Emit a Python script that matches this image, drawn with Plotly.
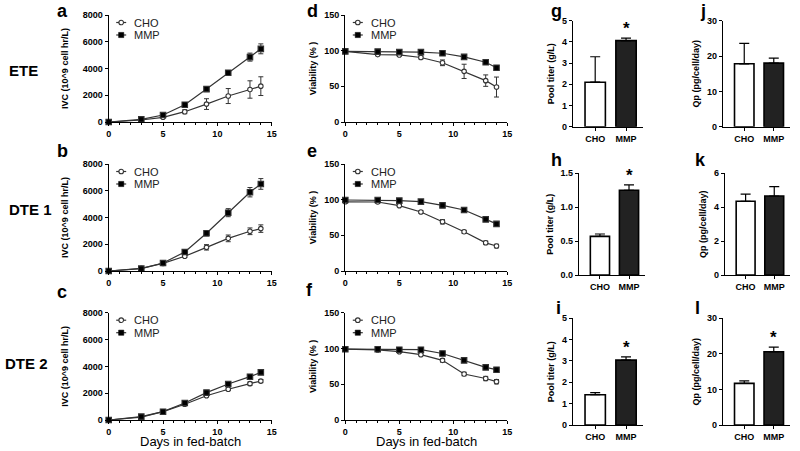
import plotly.graph_objects as go

# ---------------- data ----------------
days = [0, 3, 5, 7, 9, 11, 13, 14]

ivc_ete_cho = [0, 150, 350, 770, 1340, 1940, 2430, 2680]
ivc_ete_cho_err = [0, 30, 60, 150, 400, 560, 650, 700]
ivc_ete_mmp = [0, 200, 520, 1290, 2460, 3680, 4850, 5470]
ivc_ete_mmp_err = [0, 20, 40, 60, 100, 120, 300, 370]

ivc_dte1_cho = [0, 200, 570, 1100, 1770, 2440, 2970, 3170]
ivc_dte1_cho_err = [0, 20, 40, 80, 200, 250, 250, 280]
ivc_dte1_mmp = [0, 175, 600, 1420, 2820, 4360, 5890, 6510]
ivc_dte1_mmp_err = [0, 20, 40, 150, 200, 300, 350, 400]

ivc_dte2_cho = [0, 220, 620, 1170, 1810, 2290, 2710, 2900]
ivc_dte2_cho_err = [0, 20, 40, 60, 80, 100, 120, 120]
ivc_dte2_mmp = [0, 250, 620, 1270, 2040, 2680, 3230, 3550]
ivc_dte2_mmp_err = [0, 20, 30, 50, 60, 60, 60, 70]

via_ete_cho = [99, 94.5, 94, 90.4, 83, 71, 58, 49]
via_ete_cho_err = [1, 1.5, 1.5, 2, 4, 10, 8, 14]
via_ete_mmp = [99, 98.7, 98, 98, 96.4, 91.3, 83.8, 76]
via_ete_mmp_err = [1, 1, 1, 1, 1, 1.5, 2, 2]

via_dte1_cho = [97, 96.7, 91.6, 82.7, 69, 55, 39.5, 35]
via_dte1_cho_err = [2, 1, 1, 1.5, 3, 2, 2.5, 2.5]
via_dte1_mmp = [99.5, 99.5, 98.6, 97.2, 92, 85.5, 72.4, 66]
via_dte1_mmp_err = [1, 1, 1, 1, 1, 1.5, 2, 3]

via_dte2_cho = [99, 98, 95.5, 91.3, 83.4, 64.3, 58, 53.6]
via_dte2_cho_err = [1, 1, 1.5, 1.5, 2.5, 2.5, 3, 3]
via_dte2_mmp = [99, 99, 98.3, 98.3, 93, 83.4, 73.6, 70.3]
via_dte2_mmp_err = [1, 1, 1, 1, 1, 2, 3, 1.5]

groups = ["CHO", "MMP"]
titer_ete = [2.1, 4.06]
titer_ete_err = [1.2, 0.12]
qp_ete = [17.8, 18.0]
qp_ete_err = [5.8, 1.4]
titer_dte1 = [0.57, 1.25]
titer_dte1_err = [0.035, 0.08]
qp_dte1 = [4.35, 4.66]
qp_dte1_err = [0.42, 0.55]
titer_dte2 = [1.42, 3.04]
titer_dte2_err = [0.1, 0.15]
qp_dte2 = [11.7, 20.6]
qp_dte2_err = [0.7, 1.3]

row_labels = ["ETE", "DTE 1", "DTE 2"]
panel_letters = ["a", "b", "c", "d", "e", "f", "g", "h", "i", "j", "k", "l"]

# ---------------- layout helpers ----------------
W, H = 800, 451
FONT = "Liberation Sans, Arial, sans-serif"

def xd(a, b):
    return [a / W, b / W]

def yd(top, bottom):
    return [1 - bottom / H, 1 - top / H]

def px(v):
    return v / W

def py(v):
    return 1 - v / H

fig = go.Figure()
layout = {}
shapes = []

line_rows = [(15, 122), (164, 271), (312.7, 420)]
bar_rows = [(20.7, 126.7), (173.3, 275), (318.3, 425)]

ivc_sets = [
    (ivc_ete_cho, ivc_ete_cho_err, ivc_ete_mmp, ivc_ete_mmp_err),
    (ivc_dte1_cho, ivc_dte1_cho_err, ivc_dte1_mmp, ivc_dte1_mmp_err),
    (ivc_dte2_cho, ivc_dte2_cho_err, ivc_dte2_mmp, ivc_dte2_mmp_err),
]
via_sets = [
    (via_ete_cho, via_ete_cho_err, via_ete_mmp, via_ete_mmp_err),
    (via_dte1_cho, via_dte1_cho_err, via_dte1_mmp, via_dte1_mmp_err),
    (via_dte2_cho, via_dte2_cho_err, via_dte2_mmp, via_dte2_mmp_err),
]
titer_sets = [(titer_ete, titer_ete_err), (titer_dte1, titer_dte1_err), (titer_dte2, titer_dte2_err)]
qp_sets = [(qp_ete, qp_ete_err), (qp_dte1, qp_dte1_err), (qp_dte2, qp_dte2_err)]

tickfont = dict(family=FONT, size=9, color="black", weight="bold")
titlefont = dict(family=FONT, size=9, color="black", weight="bold")
LINEC = "#333333"

def axis_common():
    return dict(showline=True, linecolor="black", linewidth=1.3, ticks="outside",
                tickcolor="black", tickwidth=1.3, ticklen=3, showgrid=False,
                zeroline=False, tickfont=tickfont, automargin=False)

ax_idx = [0]

def next_axes():
    ax_idx[0] += 1
    n = ax_idx[0]
    s = "" if n == 1 else str(n)
    return n, "x" + s, "y" + s, "xaxis" + s, "yaxis" + s

def add_legend_key(left_px, top_px):
    # small legend key drawn in the top-left corner of a panel
    cx = left_px + 12.5
    entries = [("CHO", top_px + 7.5, "circle"), ("MMP", top_px + 20, "square")]
    for name, cy, kind in entries:
        shapes.append(dict(type="line", xref="paper", yref="paper",
                           x0=px(cx - 5), x1=px(cx + 5), y0=py(cy), y1=py(cy),
                           line=dict(color=LINEC, width=1.2)))
        if kind == "circle":
            shapes.append(dict(type="circle", xref="paper", yref="paper",
                               x0=px(cx - 2.3), x1=px(cx + 2.3), y0=py(cy + 2.3), y1=py(cy - 2.3),
                               fillcolor="white", line=dict(color=LINEC, width=1.1)))
        else:
            shapes.append(dict(type="rect", xref="paper", yref="paper",
                               x0=px(cx - 2.6), x1=px(cx + 2.6), y0=py(cy + 2.6), y1=py(cy - 2.6),
                               fillcolor="black", line=dict(color="black", width=0.5)))
        fig.add_annotation(x=px(cx + 11), y=py(cy), xref="paper", yref="paper", text=name,
                           showarrow=False, xanchor="left", yanchor="middle",
                           font=dict(family=FONT, size=11, color="#222"))

def add_line_panel(xp, yp, cho, cho_err, mmp, mmp_err, yrange, dtick, ytitle, standoff):
    n, xr, yr, xk, yk = next_axes()
    for name, vals, errs, sym, fill, msize in [
        ("CHO", cho, cho_err, "circle", "white", 4.5),
        ("MMP", mmp, mmp_err, "square", "black", 5.5),
    ]:
        fig.add_trace(go.Scatter(
            x=days, y=vals, name=name, mode="lines+markers", xaxis=xr, yaxis=yr,
            showlegend=False, cliponaxis=False,
            line=dict(color=LINEC, width=1.2),
            marker=dict(symbol=sym, size=msize, color=fill,
                        line=dict(color=LINEC, width=1.1)),
            error_y=dict(type="data", array=errs, visible=True, color=LINEC,
                         thickness=1, width=2.5),
        ))
    xdom = xd(*xp)
    ydom = yd(*yp)
    xa = axis_common()
    xa.update(domain=xdom, range=[0, 15], tickvals=[0, 5, 10, 15], anchor=yr,
              minor=dict(ticks="outside", dtick=1, ticklen=2, tickcolor="black", tickwidth=1))
    ya = axis_common()
    ya.update(domain=ydom, range=yrange, dtick=dtick, anchor=xr,
              title=dict(text=ytitle, font=titlefont, standoff=standoff))
    layout[xk] = xa
    layout[yk] = ya
    add_legend_key(xp[0], yp[0])

def add_bar_panel(xp, yp, vals, errs, yrange, dtick, ytitle, standoff, star, tickformat=None):
    n, xr, yr, xk, yk = next_axes()
    fig.add_trace(go.Bar(
        x=groups, y=vals, xaxis=xr, yaxis=yr, showlegend=False, width=0.66,
        marker=dict(color=["white", "#222222"], line=dict(color="black", width=1.6)),
        error_y=dict(type="data", symmetric=False, array=errs, arrayminus=[0, 0],
                     visible=True, color="black", thickness=1.2, width=5),
    ))
    xa = axis_common()
    xa.update(domain=xd(*xp), range=[-0.72, 1.55], anchor=yr, type="category")
    ya = axis_common()
    ya.update(domain=yd(*yp), range=yrange, dtick=dtick, anchor=xr,
              title=dict(text=ytitle, font=titlefont, standoff=standoff))
    if tickformat:
        ya["tickformat"] = tickformat
    layout[xk] = xa
    layout[yk] = ya
    if star:
        fig.add_annotation(x="MMP", y=vals[1] + errs[1], xref=xr, yref=yr, text="*",
                           showarrow=False, yanchor="bottom", yshift=-2,
                           font=dict(family=FONT, size=17, color="black", weight="bold"))

ivc_x = (108.7, 271.7)
via_x = (345.3, 507.3)
for r in range(3):
    c, ce, m, me = ivc_sets[r]
    add_line_panel(ivc_x, line_rows[r], c, ce, m, me, [0, 8000], 2000,
                   "IVC (10^9 cell hr/L)", 12)
for r in range(3):
    c, ce, m, me = via_sets[r]
    add_line_panel(via_x, line_rows[r], c, ce, m, me, [0, 150], 50,
                   "Viability (% )", 6)

titer_x = [(573, 643), (579, 645), (573, 643)]
titer_ranges = [([0, 5], 1, None), ([0, 1.5], 0.5, ".1f"), ([0, 5], 1, None)]
titer_stars = [True, True, True]
for r in range(3):
    v, e = titer_sets[r]
    rng, dt, tf = titer_ranges[r]
    add_bar_panel(titer_x[r], bar_rows[r], v, e, rng, dt, "Pool titer (g/L)", 5,
                  titer_stars[r], tf)

qp_x = [(723, 790), (725, 790), (723, 790)]
qp_ranges = [([0, 30], 10), ([0, 6], 2), ([0, 30], 10)]
qp_stars = [False, False, True]
for r in range(3):
    v, e = qp_sets[r]
    rng, dt = qp_ranges[r]
    add_bar_panel(qp_x[r], bar_rows[r], v, e, rng, dt, "Qp (pg/cell/day)", 5, qp_stars[r])

# ---------------- text ----------------
row_label_pos = [(7, 70), (7, 210), (3, 363)]
for (lx, ly), txt in zip(row_label_pos, row_labels):
    fig.add_annotation(x=px(lx), y=py(ly), xref="paper", yref="paper", text=txt,
                       showarrow=False, xanchor="left", yanchor="middle",
                       font=dict(family=FONT, size=15, color="black", weight="bold"))

letter_pos = [(62, None), (62, 151), (62, 292), (312, None), (312, 151), (309, 290),
              (556, None), (556, 160), (558, 308), (703, None), (700, 160), (697, 308)]
for (lx, ly), txt in zip(letter_pos, panel_letters):
    if ly is None:
        fig.add_annotation(x=px(lx), y=1, xref="paper", yref="paper", text=txt,
                           showarrow=False, xanchor="center", yanchor="top", yshift=1,
                           font=dict(family=FONT, size=18, color="black", weight="bold"))
    else:
        fig.add_annotation(x=px(lx), y=py(ly), xref="paper", yref="paper", text=txt,
                           showarrow=False, xanchor="center", yanchor="middle",
                           font=dict(family=FONT, size=18, color="black", weight="bold"))

for cx in [190, 426]:
    fig.add_annotation(x=px(cx), y=0, xref="paper", yref="paper",
                       text="Days in fed-batch", showarrow=False,
                       xanchor="center", yanchor="bottom", yshift=0,
                       font=dict(family=FONT, size=13, color="black"))

fig.update_layout(
    width=W, height=H, margin=dict(l=0, r=0, t=0, b=0, autoexpand=False),
    paper_bgcolor="white", plot_bgcolor="white",
    font=dict(family=FONT, color="black"),
    shapes=shapes,
    **layout,
)

fig.write_html("out.html", config={"displayModeBar": False},
               post_script="document.body.style.margin='0px';document.body.style.overflow='hidden';")
